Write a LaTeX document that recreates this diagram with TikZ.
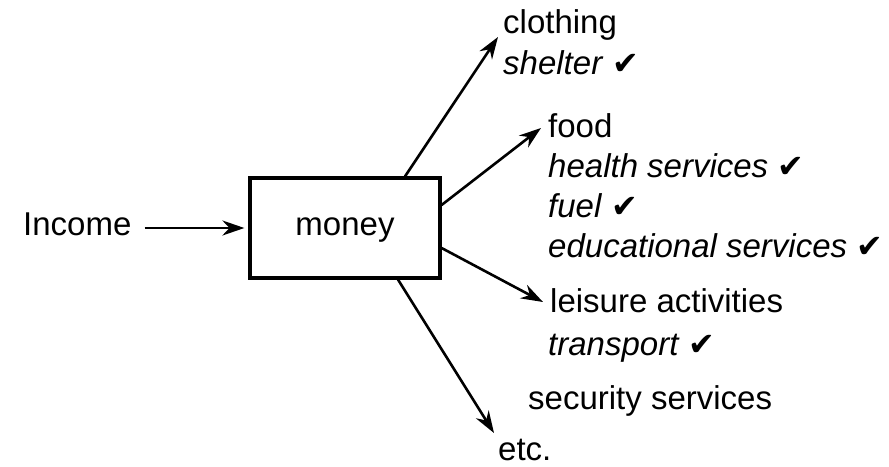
\documentclass[tikz,border=0pt]{standalone}
\usepackage{fontspec}
\setmainfont{Liberation Sans}
\newfontfamily\checkFont{DejaVu Sans}
\usetikzlibrary{positioning,arrows.meta}
\newcommand{\tick}{{\checkFont\fontsize{32}{34}\selectfont ✔}}
\newcommand{\needItem}[1]{\textit{#1}~\tick}
\tikzset{
		boxStyle/.style =   {draw, line width = 3.2pt, minimum width = 190pt, minimum height = 100pt, inner sep = 0pt,
		                     text height = 17pt, text depth = 3pt},
		itemStyle/.style =  {anchor = base west, inner sep = 0pt},
		arrowStyle/.style = {line width = 2.6pt, -{Stealth[length = 22pt, width = 15pt]}}
}
\begin{document}
\begin{tikzpicture}[x = 1pt, y = -1pt, font = \fontsize{33}{40}\selectfont]
  \useasboundingbox (0,0) rectangle (889,466);

  % Box and income
  \node [boxStyle] (money) at (345,228) {money};
  \node [itemStyle] (income) at (23,235) {Income};
  \draw [arrowStyle, shorten <= 13pt, shorten >= 4pt] (income.east |- money) -- (money.west);

  % Items bought with money
  \node [itemStyle] (clothing)  at (503,33)  {clothing};
  \node [itemStyle] (shelter)   at (503,74)  {\needItem{shelter}};
  \node [itemStyle] (food)      at (548,137) {food};
  \node [itemStyle] (health)    at (548,177) {\needItem{health services}};
  \node [itemStyle] (fuel)      at (548,217) {\needItem{fuel}};
  \node [itemStyle] (education) at (548,257) {\needItem{educational services}};
  \node [itemStyle] (leisure)   at (550,312) {leisure activities};
  \node [itemStyle] (transport) at (548,355) {\needItem{transport}};
  \node [itemStyle] (security)  at (528,409) {security services};
  \node [itemStyle] (etc)       at (498,460) {etc.};

  % Arrows out of the box
  \draw [arrowStyle] ([xshift = 60pt]money.north) -- ([xshift = -5pt, yshift = -4pt]clothing.base west);
  \draw [arrowStyle] ([yshift = 23pt]money.east)  -- ([xshift = -7pt, yshift = 9pt]food.base west);
  \draw [arrowStyle] ([yshift = -20pt]money.east) -- ([xshift = -7pt, yshift = 10pt]leisure.base west);
  \draw [arrowStyle] ([xshift = 53pt]money.south) -- ([xshift = -4pt, yshift = 27pt]etc.base west);

\end{tikzpicture}
\end{document}
